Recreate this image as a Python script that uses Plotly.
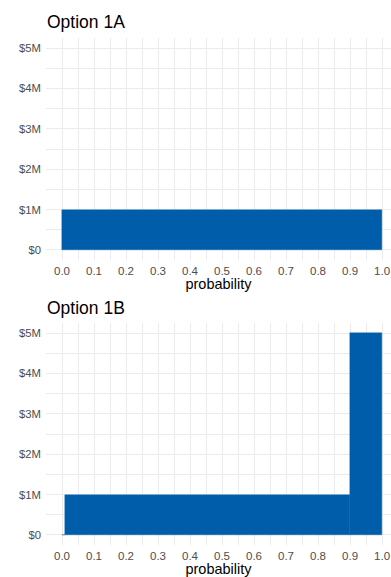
import numpy as np
import plotly.graph_objects as go

# Lottery outcomes (dollars) and their probabilities
outcomes_1a = [1_000_000]
probs_1a = [1.00]

outcomes_1b = [0, 1_000_000, 5_000_000]
probs_1b = [0.01, 0.89, 0.10]

y_ticks = [0, 1_000_000, 2_000_000, 3_000_000, 4_000_000, 5_000_000]
y_labels = ["$0", "$1M", "$2M", "$3M", "$4M", "$5M"]
x_ticks = [round(0.1 * i, 1) for i in range(11)]
x_labels = [f"{v:.1f}" for v in x_ticks]

BAR = "#005DAA"
GRID = "#EBEBEB"
FONT = "Liberation Sans, Arial, sans-serif"

W, H = 391, 577


def bar_trace(outcomes, probs, xa, ya):
    right = np.cumsum(probs)
    left = right - np.array(probs)
    return go.Bar(
        x=(left + right) / 2,
        y=outcomes,
        width=probs,
        marker=dict(color=BAR, line=dict(color=BAR, width=0.4)),
        xaxis=xa, yaxis=ya, showlegend=False, hoverinfo="skip",
    )


fig = go.Figure()
fig.add_trace(bar_trace(outcomes_1a, probs_1a, "x", "y"))
fig.add_trace(bar_trace(outcomes_1b, probs_1b, "x2", "y2"))

# panel pixel bounds (top, bottom)
panels = [(38, 260), (323, 545)]
x_left_px = 46

xaxis_common = dict(
    range=[-0.05, 1.028],
    tickvals=x_ticks, ticktext=x_labels,
    showgrid=True, gridcolor=GRID, gridwidth=1.1,
    minor=dict(dtick=0.05, tick0=0.05, showgrid=True, gridcolor=GRID, gridwidth=0.6),
    zeroline=False, showline=False, ticks="",
    ticklabelstandoff=2,
    tickfont=dict(family=FONT, size=11.5, color="#4D4D4D"),
    title=dict(text="probability", font=dict(family=FONT, size=14.5, color="#000000"), standoff=2),
    domain=[x_left_px / W, 1.0],
    fixedrange=True,
)
yaxis_common = dict(
    range=[-250_000, 5_250_000],
    tickvals=y_ticks, ticktext=y_labels,
    showgrid=True, gridcolor=GRID, gridwidth=1.1,
    minor=dict(dtick=500_000, tick0=500_000, showgrid=True, gridcolor=GRID, gridwidth=0.6),
    zeroline=False, showline=False, ticks="",
    ticklabelstandoff=4,
    tickfont=dict(family=FONT, size=11.3, color="#4D4D4D"),
    fixedrange=True,
)

layout = dict(
    width=W, height=H,
    margin=dict(l=0, r=0, t=0, b=0),
    paper_bgcolor="white", plot_bgcolor="white",
    bargap=0,
    font=dict(family=FONT),
)
fig.update_layout(**layout)

for i, (top, bot) in enumerate(panels):
    sx = "" if i == 0 else str(i + 1)
    fig.update_layout(**{
        f"xaxis{sx}": dict(xaxis_common, anchor=f"y{sx}"),
        f"yaxis{sx}": dict(yaxis_common, anchor=f"x{sx}",
                           domain=[1 - bot / H, 1 - top / H]),
    })

titles = ["Option 1A", "Option 1B"]
title_y = [22, 307.5]
for t, ty in zip(titles, title_y):
    fig.add_annotation(
        text=t, xref="paper", yref="paper",
        x=(x_left_px - 1) / W, y=1 - ty / H, xanchor="left", yanchor="middle",
        showarrow=False, font=dict(family=FONT, size=17.5, color="#000000"),
    )

fig.write_html("out.html")
